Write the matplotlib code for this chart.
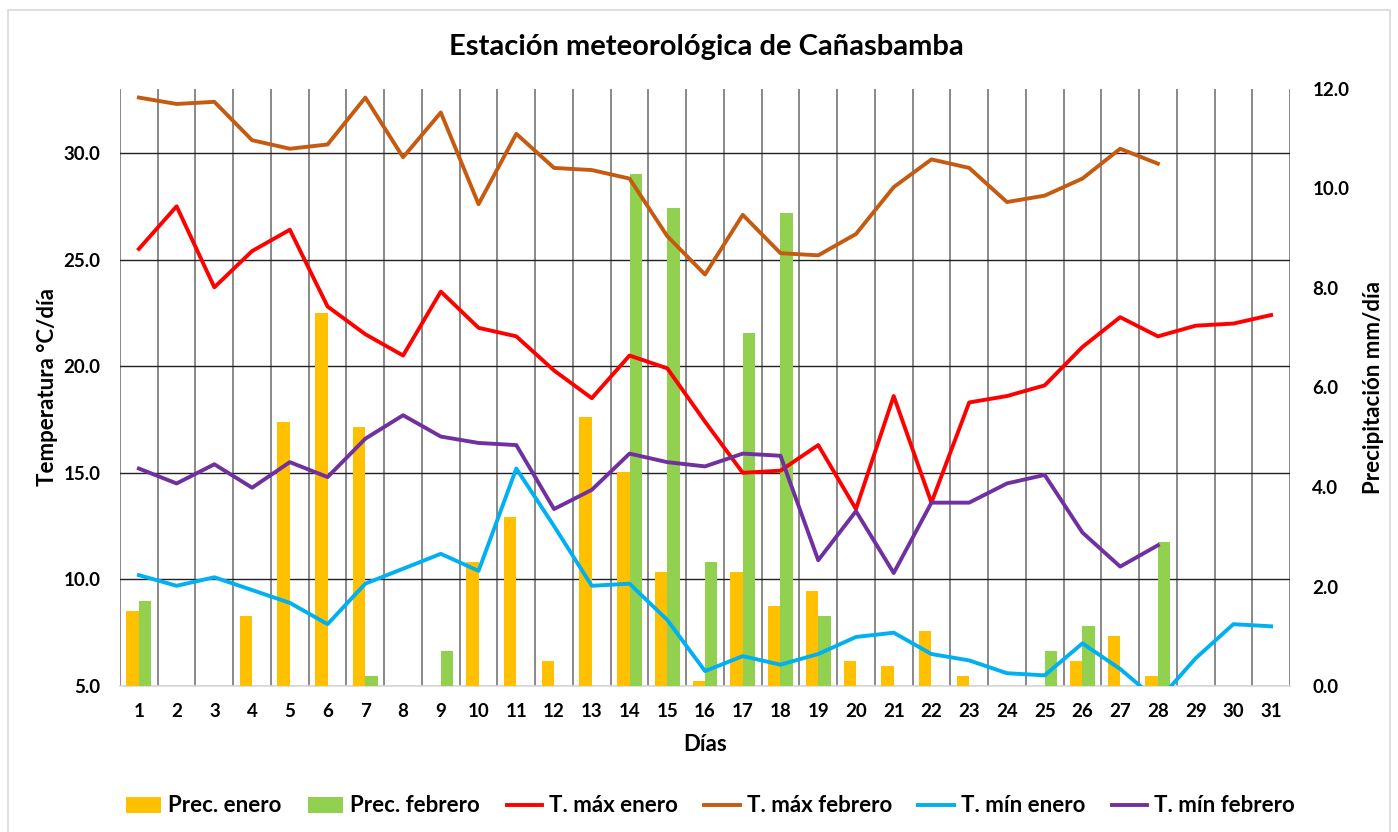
import numpy as np
import matplotlib
matplotlib.use("Agg")
import matplotlib.pyplot as plt
from matplotlib.patches import Rectangle

plt.rcParams['font.family'] = ['Lato', 'DejaVu Sans']
plt.rcParams['font.weight'] = 'bold'

nan = np.nan

# datos diarios
dias = np.arange(1, 32)

prec_enero = [1.5, 0, 0, 1.4, 5.3, 7.5, 5.2, 0, 0, 2.5, 3.4, 0.5, 5.4, 4.3, 2.3, 0.1,
              2.3, 1.6, 1.9, 0.5, 0.4, 1.1, 0.2, 0, 0, 0.5, 1.0, 0.2, nan, nan, nan]
prec_febrero = [1.7, 0, 0, 0, 0, 0, 0.2, 0, 0.7, 0, 0, 0, 0, 10.3, 9.6, 2.5,
                7.1, 9.5, 1.4, 0, 0, 0, 0, 0, 0.7, 1.2, 0, 2.9, nan, nan, nan]

tmax_enero = [25.5, 27.5, 23.7, 25.4, 26.4, 22.8, 21.5, 20.5, 23.5, 21.8, 21.4, 19.8,
              18.5, 20.5, 19.9, 17.4, 15.0, 15.1, 16.3, 13.3, 18.6, 13.6, 18.3, 18.6,
              19.1, 20.9, 22.3, 21.4, 21.9, 22.0, 22.4]
tmax_febrero = [32.6, 32.3, 32.4, 30.6, 30.2, 30.4, 32.6, 29.8, 31.9, 27.6, 30.9, 29.3,
                29.2, 28.8, 26.1, 24.3, 27.1, 25.3, 25.2, 26.2, 28.4, 29.7, 29.3, 27.7,
                28.0, 28.8, 30.2, 29.5, nan, nan, nan]
tmin_enero = [10.2, 9.7, 10.1, 9.5, 8.9, 7.9, 9.8, 10.5, 11.2, 10.4, 15.2, 12.5,
              9.7, 9.8, 8.1, 5.7, 6.4, 6.0, 6.5, 7.3, 7.5, 6.5, 6.2, 5.6,
              5.5, 7.0, 5.8, 4.3, 6.3, 7.9, 7.8]
tmin_febrero = [15.2, 14.5, 15.4, 14.3, 15.5, 14.8, 16.6, 17.7, 16.7, 16.4, 16.3, 13.3,
                14.2, 15.9, 15.5, 15.3, 15.9, 15.8, 10.9, 13.2, 10.3, 13.6, 13.6, 14.5,
                14.9, 12.2, 10.6, 11.6, nan, nan, nan]

fig = plt.figure(figsize=(13.98, 8.32), dpi=100)
fig.patches.append(Rectangle((8 / 1398, -0.01), 1382 / 1398, 1 - 10 / 832 + 0.01,
                             transform=fig.transFigure, fill=False,
                             edgecolor='#d9d9d9', linewidth=1.2))

pos = [120 / 1398, 1 - 686 / 832, 1170 / 1398, 597 / 832]
ax = fig.add_axes(pos)          # eje de temperatura + rejilla
ax2 = ax.twinx()                # barras de precipitacion
ax3 = ax.twinx()                # lineas de temperatura encima

tlim = (5, 5 + 597 / 21.32)
ax.set_xlim(0.5, 31.5)
ax.set_ylim(*tlim)
ax3.set_ylim(*tlim)
ax2.set_ylim(0, 12)

# rejilla
ax.set_xticks(dias)
ax.set_xticks(np.arange(0.5, 32, 1), minor=True)
ax.set_yticks([5, 10, 15, 20, 25, 30])
ax.grid(which='minor', axis='x', color='#808080', linewidth=1.3)
ax.grid(which='major', axis='y', color='#222222', linewidth=1)
ax.tick_params(which='both', length=0)
ax.tick_params(axis='x', labelsize=13.5, pad=12)
ax.tick_params(axis='y', labelsize=13.5, pad=14)
ax.set_yticklabels([f"{v:.1f}" for v in [5, 10, 15, 20, 25, 30]])

# barras
w = 0.33
ax2.bar(dias - w / 2, prec_enero, width=w, color='#FFC000', label='Prec. enero')
ax2.bar(dias + w / 2, prec_febrero, width=w, color='#92D050', label='Prec. febrero')
ax2.set_yticks(np.arange(0, 13, 2))
ax2.set_yticklabels([f"{v:.1f}" for v in np.arange(0, 13, 2)])
ax2.tick_params(length=0, labelsize=13.5, pad=16)

# lineas
lw = 2.8
ax3.plot(dias, tmax_enero, color='#FF0000', lw=lw, label='T. máx enero')
ax3.plot(dias, tmax_febrero, color='#C55A11', lw=lw, label='T. máx febrero')
ax3.plot(dias, tmin_enero, color='#00B0F0', lw=lw, label='T. mín enero')
ax3.plot(dias, tmin_febrero, color='#7030A0', lw=lw, label='T. mín febrero')
ax3.set_yticks([])

for a in (ax, ax2, ax3):
    for s in a.spines.values():
        s.set_visible(False)
ax.spines['bottom'].set_visible(True)
ax.spines['bottom'].set_color('#d9d9d9')
ax.spines['bottom'].set_linewidth(1.2)

ax.set_xlabel('Días', fontsize=16, fontweight='bold', labelpad=10)
ax.set_ylabel('Temperatura °C/día', fontsize=16, fontweight='bold', labelpad=4)
ax2.set_ylabel('Precipitación mm/día', fontsize=16, fontweight='bold', labelpad=10)

fig.text(0.505, 1 - 47 / 832, 'Estación meteorológica de Cañasbamba',
         ha='center', va='center', fontsize=21, fontweight='bold')

h2, l2 = ax2.get_legend_handles_labels()
h3, l3 = ax3.get_legend_handles_labels()
fig.legend(h2 + h3, l2 + l3, loc='center', bbox_to_anchor=(0.508, 1 - 806 / 832),
           ncol=6, frameon=False, fontsize=16, handlelength=1.6, handletextpad=0.3,
           columnspacing=1.2)

fig.savefig('out.png', dpi=100)
